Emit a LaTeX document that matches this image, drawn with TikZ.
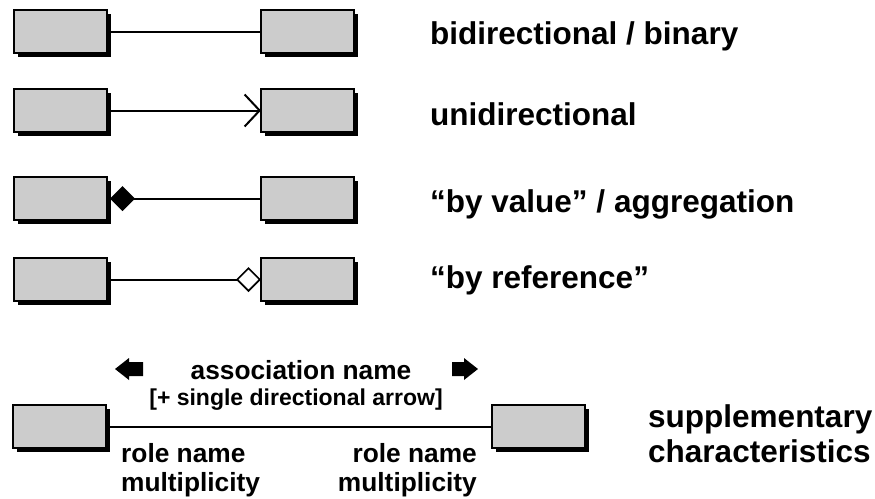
\documentclass[tikz,border=0pt]{standalone}
\usepackage{fontspec}
\setmainfont{Liberation Sans}
\usetikzlibrary{arrows.meta,shadows}
\definecolor{boxgray}{RGB}{204,204,204}
\begin{document}
\begin{tikzpicture}[x=1pt,y=-1pt,
  cls/.style={draw=black,line width=1.5pt,fill=boxgray,minimum width=93pt,minimum height=43pt,inner sep=0pt,outer sep=0pt,anchor=north west,
    drop shadow={shadow xshift=4pt,shadow yshift=-4pt,opacity=1,fill=black}},
  lbl/.style={font=\fontsize{31.5}{36}\selectfont\bfseries,inner sep=0pt,anchor=base west},
  smalltxt/.style={font=\fontsize{26.3}{30}\selectfont\bfseries,inner sep=0pt},
  tinytxt/.style={font=\fontsize{23}{27}\selectfont\bfseries,inner sep=0pt},
  conn/.style={line width=2pt}]
\useasboundingbox (0,0) rectangle (875,498);

% boxes
\node[cls] (L1) at (14,10) {};
\node[cls] (R1) at (261,10) {};
\node[cls] (L2) at (14,89) {};
\node[cls] (R2) at (261,89) {};
\node[cls] (L3) at (14,177) {};
\node[cls] (R3) at (261,177) {};
\node[cls] (L4) at (14,258) {};
\node[cls] (R4) at (261,258) {};
\node[cls] (L5) at (13,405) {};
\node[cls] (R5) at (492,405) {};

% connectors
\draw[conn] (L1.east) -- (R1.west);
\draw[conn,-{Straight Barb[length=15pt,width=32pt]}] (L2.east) -- (R2.west);
\draw[conn,{Diamond[length=25pt,width=25pt]}-] ([xshift=3pt]L3.east) -- (R3.west);
\draw[conn,-{Diamond[open,length=25pt,width=25pt,fill=white,line width=1.6pt]}] (L4.east) -- (R4.west);
\draw[conn] (L5.east) -- (R5.west);

% block arrows
\fill (115,369) -- (129,358) -- (129,362) -- (143,362) -- (143,376) -- (129,376) -- (129,380) -- cycle;
\fill (478,369) -- (464,358) -- (464,362) -- (452,362) -- (452,376) -- (464,376) -- (464,380) -- cycle;

% labels
\node[lbl] (t1) at (430,44) {bidirectional / binary};
\node[lbl] (t2) at (430,125) {unidirectional};
\node[lbl] (t3) at (430,212) {“by value” / aggregation};
\node[lbl] (t4) at (430,288) {“by reference”};
\node[lbl] (t5) at (648,427) {supplementary};
\node[lbl] (t6) at (648,462) {characteristics};

\node[smalltxt,anchor=base] (an) at (301,379) {association name};
\node[tinytxt,anchor=base] (arr) at (296,405) {[+ single directional arrow]};
\node[smalltxt,anchor=base west] (rn1) at (121,462) {role name};
\node[smalltxt,anchor=base west] (m1) at (121,491) {multiplicity};
\node[smalltxt,anchor=base east] (rn2) at (477,462) {role name};
\node[smalltxt,anchor=base east] (m2) at (477,491) {multiplicity};
\end{tikzpicture}
\end{document}
